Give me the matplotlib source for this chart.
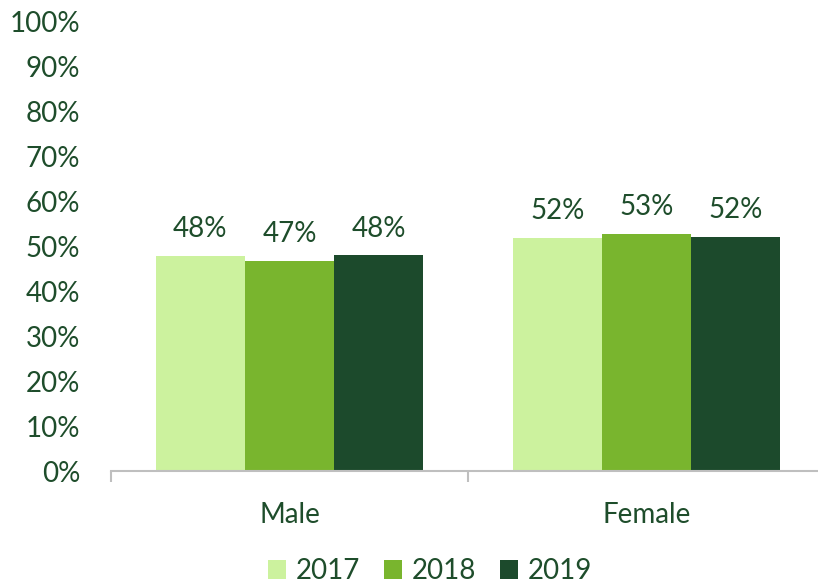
import numpy as np
import matplotlib.pyplot as plt

categories = ["Male", "Female"]
years = ["2017", "2018", "2019"]
values = {
    "2017": [47.9, 51.9],
    "2018": [46.8, 52.8],
    "2019": [48.0, 52.1],
}
labels = {
    "2017": ["48%", "52%"],
    "2018": ["47%", "53%"],
    "2019": ["48%", "52%"],
}
colors = ["#CCF29E", "#79B52E", "#1C4A2C"]
text_color = "#1E4D2B"

plt.rcParams['font.family'] = ['Lato', 'DejaVu Sans']

fig = plt.figure(figsize=(8.18, 5.88), dpi=100)
ax = fig.add_axes([111 / 818, 117 / 588, 714 / 818, 449 / 588])

x = np.arange(len(categories))
w = 0.25
for i, yr in enumerate(years):
    pos = x + (i - 1) * w
    bars = ax.bar(pos, values[yr], width=w, color=colors[i], label=yr)
    for b, lab in zip(bars, labels[yr]):
        ax.annotate(lab, (b.get_x() + b.get_width() / 2, b.get_height()),
                    xytext=(0, 10), textcoords="offset points",
                    ha="center", va="bottom", fontsize=20, color=text_color)

ax.set_xlim(-0.5, 1.5)
ax.set_ylim(0, 100)
ax.set_yticks(np.arange(0, 101, 10))
ax.set_yticklabels([f"{v}%" for v in range(0, 101, 10)])
ax.set_xticks(x)
ax.set_xticklabels(categories)
ax.set_xticks([-0.5, 0.5, 1.5], minor=True)

for s in ["top", "right", "left"]:
    ax.spines[s].set_visible(False)
ax.spines["bottom"].set_color("#BFBFBF")
ax.spines["bottom"].set_linewidth(1.5)

ax.tick_params(axis="y", length=0, pad=22, labelsize=20, labelcolor=text_color)
ax.tick_params(axis="x", which="major", length=0, pad=22, labelsize=20, labelcolor=text_color)
ax.tick_params(axis="x", which="minor", length=8, width=1.5, color="#BFBFBF")

fig.legend(loc="lower center", bbox_to_anchor=(0.526, -0.036), ncol=3, frameon=False,
           fontsize=20, labelcolor=text_color, handlelength=0.65, handleheight=0.65,
           handletextpad=0.35, columnspacing=0.85)

fig.savefig("out.png", dpi=100)
